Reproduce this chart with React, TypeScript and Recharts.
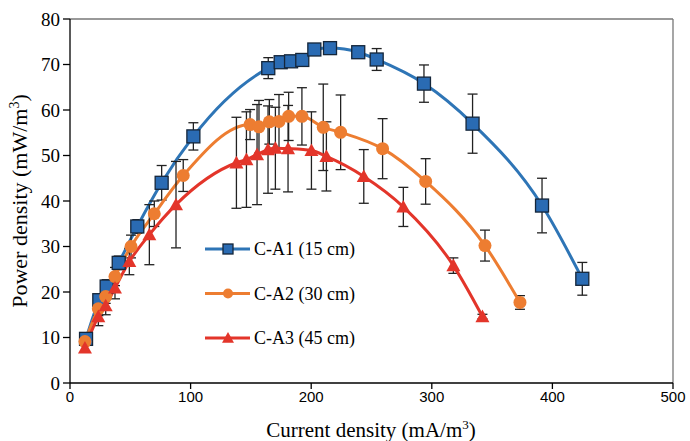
import React from 'react';
import { LineChart, Line, XAxis, YAxis, ErrorBar, ReferenceLine } from 'recharts';

// C-A1 (15 cm)
const xA1 = [13.3, 24.3, 30.4, 40.4, 55.8, 76, 102.3, 164.4, 174.7, 183.3, 192.6, 202.6, 215.6, 239, 254.3, 293.5, 333.8, 391.4, 424.8];
const yA1 = [9.7, 18.2, 21.2, 26.4, 34.4, 44.0, 54.2, 69.2, 70.5, 70.7, 71.0, 73.3, 73.6, 72.7, 71.1, 65.8, 57.0, 39.0, 22.9];
const eA1 = [0.8, 1.2, 1.5, 1.5, 1.5, 3.8, 3.0, 2.3, 0.8, 0.8, 0.8, 0.8, 0.8, 0.8, 2.4, 4.1, 6.5, 6.0, 3.6];

// C-A2 (30 cm)
const xA2 = [12.4, 23.5, 29.6, 37.3, 50.6, 69.9, 93.9, 149.3, 156.7, 165.3, 173.3, 181.3, 192.3, 210, 224.4, 259.2, 294.9, 344.1, 373.1];
const yA2 = [9.1, 16.3, 19.0, 23.4, 30.0, 37.2, 45.6, 56.8, 56.3, 57.4, 57.5, 58.6, 58.6, 56.2, 55.1, 51.5, 44.3, 30.2, 17.7];
const eA2 = [0.8, 1.5, 1.5, 2.0, 2.5, 2.8, 3.5, 3.3, 5.8, 4.9, 5.9, 5.3, 6.3, 9.5, 8.2, 6.6, 5.0, 3.4, 1.5];

// C-A3 (45 cm)
const xA3 = [12.4, 23.5, 29.6, 37.3, 49.2, 65.8, 87.9, 138, 146.3, 155.1, 164.2, 170.3, 180.8, 200.2, 212.6, 243.6, 276.4, 317.9, 342];
const yA3 = [7.7, 14.6, 17.0, 20.9, 26.7, 32.6, 39.2, 48.4, 49.1, 50.2, 51.3, 51.6, 51.5, 51.1, 49.8, 45.4, 38.7, 25.8, 14.6];
const eA3 = [0.8, 2.0, 2.0, 2.4, 2.9, 6.6, 9.5, 10, 10.5, 11, 9.6, 9.0, 9.5, 8.5, 7.6, 5.9, 4.3, 1.7, 0.5];

const seriesNames = ['C-A1 (15 cm)', 'C-A2 (30 cm)', 'C-A3 (45 cm)'];
const xTicks = [0, 100, 200, 300, 400, 500];
const yTicks = [0, 10, 20, 30, 40, 50, 60, 70, 80];

const BLUE = '#2E75B6';
const BLUE_FILL = '#2A6BB3';
const ORANGE = '#ED7D31';
const RED = '#E3352A';
const SERIF = '"Liberation Serif", "Times New Roman", serif';
const SANS = '"Liberation Sans", Arial, sans-serif';

const build = (xs: number[], ys: number[], es: number[]) =>
  xs.map((x, i) => ({ x, y: ys[i], e: es[i] }));

const dA1 = build(xA1, yA1, eA1);
const dA2 = build(xA2, yA2, eA2);
const dA3 = build(xA3, yA3, eA3);

const Square = (p: any) => {
  const { cx, cy, sz = 13 } = p;
  if (cx == null || cy == null) return null;
  return <rect x={cx - sz / 2} y={cy - sz / 2} width={sz} height={sz} fill={BLUE_FILL} stroke="#15263a" strokeWidth={1.3} />;
};
const Circle = (p: any) => {
  const { cx, cy, rad = 6.5 } = p;
  if (cx == null || cy == null) return null;
  return <circle cx={cx} cy={cy} r={rad} fill={ORANGE} stroke="none" />;
};
const Tri = (p: any) => {
  const { cx, cy, sz = 7 } = p;
  if (cx == null || cy == null) return null;
  return (
    <polygon
      points={`${cx},${cy - sz} ${cx - sz},${cy + sz * 0.8} ${cx + sz},${cy + sz * 0.8}`}
      fill={RED}
      stroke="none"
    />
  );
};

const XTick = (p: any) => {
  const { x, y, payload } = p;
  return (
    <text x={x} y={y + 11} textAnchor="middle" style={{ fontFamily: SANS, fontSize: 15 }} fill="#000">
      {payload.value}
    </text>
  );
};

const YTick = (p: any) => {
  const { x, y, payload } = p;
  return (
    <text x={x} y={y + 6.5} textAnchor="end" style={{ fontFamily: SERIF, fontSize: 19 }} fill="#000">
      {payload.value}
    </text>
  );
};

const LegendBox = () => {
  const rows = [
    { name: seriesNames[0], color: BLUE, mk: (cx: number, cy: number) => <Square cx={cx} cy={cy} sz={10} /> },
    { name: seriesNames[1], color: ORANGE, mk: (cx: number, cy: number) => <Circle cx={cx} cy={cy} rad={5} /> },
    { name: seriesNames[2], color: RED, mk: (cx: number, cy: number) => <Tri cx={cx} cy={cy} sz={6} /> },
  ];
  return (
    <svg width={180} height={120} style={{ display: 'block' }}>
      {rows.map((r, i) => {
        const cy = 14 + i * 44.5;
        return (
          <g key={r.name}>
            <line x1={5} y1={cy} x2={50} y2={cy} stroke={r.color} strokeWidth={3} />
            {r.mk(28, cy)}
            <text x={54} y={cy} dominantBaseline="central" style={{ fontFamily: SERIF, fontSize: 18 }} fill="#000">
              {r.name}
            </text>
          </g>
        );
      })}
    </svg>
  );
};

const XTitle = () => (
  <text x={371} y={437} textAnchor="middle" style={{ fontFamily: SERIF, fontSize: 21 }} fill="#000">
    Current density (mA/m<tspan dy={-8} fontSize={13}>3</tspan>
    <tspan dy={8}>)</tspan>
  </text>
);

const YTitle = () => (
  <text
    x={0}
    y={0}
    transform="translate(27,201) rotate(-90)"
    textAnchor="middle"
    style={{ fontFamily: SERIF, fontSize: 22 }}
    fill="#000"
  >
    Power density (mW/m<tspan dy={-8} fontSize={14}>3</tspan>
    <tspan dy={8}>)</tspan>
  </text>
);

export default function App() {
  return (
    <div style={{ position: 'absolute', left: 0, top: 0, width: 690, height: 441, background: '#fff' }}>
      <LineChart width={690} height={441} margin={{ top: 19, right: 17, left: 0, bottom: 0 }}>
        <XAxis
          type="number"
          dataKey="x"
          domain={[0, 500]}
          ticks={xTicks}
          allowDataOverflow
          height={58}
          tickSize={6}
          tickMargin={2}
          axisLine={{ stroke: '#000', strokeWidth: 1.3 }}
          tickLine={{ stroke: '#000', strokeWidth: 1.3 }}
          tick={<XTick />}
          label={{ content: XTitle }}
        />
        <YAxis
          type="number"
          dataKey="y"
          domain={[0, 80]}
          ticks={yTicks}
          allowDataOverflow
          width={70}
          tickSize={7}
          tickMargin={3}
          axisLine={{ stroke: '#000', strokeWidth: 1.3 }}
          tickLine={{ stroke: '#000', strokeWidth: 1.3 }}
          tick={<YTick />}
          label={{ content: YTitle }}
        />
        <ReferenceLine y={80} stroke="#777" strokeWidth={1.3} />
        <ReferenceLine x={500} stroke="#777" strokeWidth={1.3} />
        <Line
          data={dA1}
          dataKey="y"
          name={seriesNames[0]}
          type="monotone"
          stroke={BLUE}
          strokeWidth={3}
          dot={<Square />}
          activeDot={false}
          isAnimationActive={false}
        >
          <ErrorBar dataKey="e" direction="y" width={5} stroke="#222" strokeWidth={1.3} />
        </Line>
        <Line
          data={dA2}
          dataKey="y"
          name={seriesNames[1]}
          type="monotone"
          stroke={ORANGE}
          strokeWidth={3}
          dot={<Circle />}
          activeDot={false}
          isAnimationActive={false}
        >
          <ErrorBar dataKey="e" direction="y" width={5} stroke="#222" strokeWidth={1.3} />
        </Line>
        <Line
          data={dA3}
          dataKey="y"
          name={seriesNames[2]}
          type="monotone"
          stroke={RED}
          strokeWidth={3}
          dot={<Tri />}
          activeDot={false}
          isAnimationActive={false}
        >
          <ErrorBar dataKey="e" direction="y" width={5} stroke="#222" strokeWidth={1.3} />
        </Line>
      </LineChart>
      <div style={{ position: 'absolute', left: 200, top: 235 }}>
        <LegendBox />
      </div>
    </div>
  );
}
